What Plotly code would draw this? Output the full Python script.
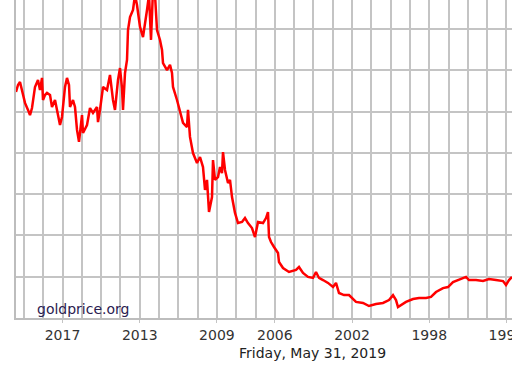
import plotly.graph_objects as go

# Gold price (USD/oz); x in decimal years (axis runs right-to-left)
years = [2019.41, 2019.306, 2019.203, 2019.099, 2018.944, 2018.788, 2018.685, 2018.581, 2018.426, 2018.270,
         2018.167, 2018.063, 2018.011, 2017.907, 2017.804, 2017.648, 2017.545, 2017.389, 2017.234, 2017.130,
         2017.027, 2016.871, 2016.768, 2016.664, 2016.612, 2016.457, 2016.353, 2016.249, 2016.146, 2015.990,
         2015.939, 2015.731, 2015.576, 2015.420, 2015.213, 2015.161, 2015.058, 2014.902, 2014.695, 2014.540,
         2014.384, 2014.281, 2014.125, 2014.021, 2013.918, 2013.866, 2013.762, 2013.659, 2013.607, 2013.503,
         2013.348, 2013.244, 2013.141, 2012.985, 2012.830, 2012.726, 2012.622, 2012.519, 2012.415, 2012.312,
         2012.208, 2012.104, 2011.949, 2011.845, 2011.793, 2011.586, 2011.431, 2011.327, 2011.275, 2011.068,
         2010.913, 2010.757, 2010.550, 2010.498, 2010.395, 2010.239, 2010.032, 2009.876, 2009.721, 2009.617,
         2009.514, 2009.410, 2009.255, 2009.203, 2009.099, 2008.944, 2008.840, 2008.737, 2008.685, 2008.581,
         2008.426, 2008.322, 2008.218, 2008.063, 2007.907, 2007.700, 2007.545, 2007.389, 2007.182, 2007.027,
         2006.871, 2006.612, 2006.457, 2006.353, 2006.301, 2006.198, 2006.042, 2005.835, 2005.783, 2005.576,
         2005.265, 2004.902, 2004.747, 2004.540, 2004.281, 2004.022, 2003.866, 2003.711, 2003.503, 2003.244,
         2002.985, 2002.830, 2002.674, 2002.415, 2002.156, 2001.794, 2001.431, 2001.120, 2000.757, 2000.395,
         2000.084, 1999.876, 1999.721, 1999.617, 1999.203, 1998.840, 1998.529, 1998.167, 1997.908, 1997.649,
         1997.286, 1997.027, 1996.768, 1996.509, 1996.250, 1996.094, 1995.939, 1995.576, 1995.213, 1994.902,
         1994.540, 1994.177, 1994.022, 1993.866, 1993.711]

prices = [1295, 1329, 1343, 1304, 1242, 1208, 1183, 1217, 1319, 1353,
          1304, 1363, 1256, 1280, 1290, 1280, 1222, 1256, 1193, 1135,
          1174, 1319, 1363, 1329, 1222, 1256, 1222, 1111, 1053, 1183,
          1096, 1135, 1217, 1193, 1222, 1149, 1208, 1319, 1304, 1377,
          1256, 1208, 1353, 1411, 1314, 1208, 1387, 1450, 1595, 1658,
          1692, 1765, 1716, 1610, 1561, 1619, 1692, 1765, 1547, 1789,
          1765, 1595, 1547, 1498, 1435, 1401, 1426, 1387, 1319, 1256,
          1193, 1145, 1125, 1208, 1077, 999, 951, 980, 931, 820,
          869, 714, 786, 965, 869, 883, 931, 902, 1004, 917,
          854, 869, 786, 709, 660, 665, 684, 660, 636, 592,
          665, 660, 684, 713, 592, 568, 544, 515, 471, 442,
          423, 433, 447, 418, 399, 394, 423, 394, 384, 370,
          350, 370, 321, 311, 311, 278, 273, 258, 268, 273,
          287, 311, 287, 253, 278, 292, 297, 297, 302, 326,
          345, 350, 374, 384, 394, 399, 384, 384, 379, 389,
          384, 379, 360, 384, 399]

tick_years = [1994, 1998, 2002, 2006, 2009, 2013, 2017]
tick_labels = ["1994", "1998", "2002", "2006", "2009", "2013", "2017"]
date_label = "Friday, May 31, 2019"
source_label = "goldprice.org"

GRID = "#c4c4c4"

fig = go.Figure(go.Scatter(
    x=years, y=prices, mode="lines",
    line=dict(color="#ff0000", width=2.5),
    hoverinfo="skip",
))

fig.update_layout(
    width=512, height=365,
    margin=dict(l=16, r=0, t=0, b=47, autoexpand=False),
    paper_bgcolor="white", plot_bgcolor="white",
    showlegend=False,
)

fig.update_xaxes(
    range=[2019.41, 1993.711],
    automargin=False,
    tickmode="array", tickvals=tick_years, ticktext=tick_labels,
    ticklabeloverflow="allow",
    showgrid=True, gridcolor=GRID, gridwidth=2,
    minor=dict(tickmode="linear", tick0=1994, dtick=1,
               showgrid=True, gridcolor=GRID, gridwidth=2),
    ticks="outside", ticklen=3, tickcolor=GRID,
    showline=True, linecolor="#bdbdbd", linewidth=2,
    tickfont=dict(family="DejaVu Sans", size=14, color="#333333"),
    zeroline=False,
)

fig.update_yaxes(
    range=[200, 1740.4],
    automargin=False,
    tickmode="linear", tick0=200, dtick=200,
    showticklabels=False, ticks="",
    showgrid=True, gridcolor=GRID, gridwidth=2,
    showline=True, linecolor="#bdbdbd", linewidth=2,
    zeroline=False,
)

fig.add_annotation(
    text=source_label, xref="paper", yref="paper",
    x=0.0383, y=0.0283, xanchor="left", yanchor="middle",
    showarrow=False,
    font=dict(family="DejaVu Sans", size=14, color="#2a2050"),
)
fig.add_annotation(
    text=date_label, xref="paper", yref="paper",
    x=0.598, y=-0.110, xanchor="center", yanchor="middle",
    showarrow=False,
    font=dict(family="DejaVu Sans", size=14, color="#222222"),
)

fig.write_html("out.html")
